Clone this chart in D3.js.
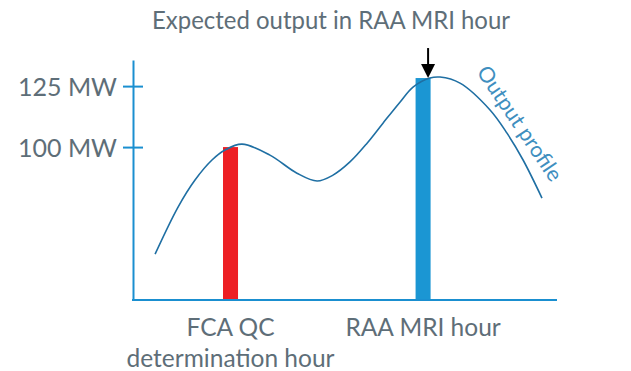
<!DOCTYPE html>
<html>
<head>
<meta charset="utf-8">
<script src="https://cdnjs.cloudflare.com/ajax/libs/d3/7.8.5/d3.min.js"></script>
<style>
  body { margin: 0; background: #fff; }
  svg text { font-family: Lato, "Open Sans", sans-serif; fill: #5e6e78; }
  .axis path, .axis line { stroke: #1a8fd0; stroke-width: 2; }
</style>
</head>
<body>
<div id="chart"></div>
<script>
// output profile across the day (hour, MW)
var profileHours = [1.25, 2.55, 3.51, 4.47, 5.21, 6.17, 7.75, 9.28, 10.42, 11.32, 12.28, 13.25, 14.15, 15.11, 15.85, 16.81, 17.38, 18.51, 20.21, 21.17, 22.08, 23.15];
var profileMW    = [56.1, 75.4, 86.5, 94.7, 98.8, 101.2, 96.7, 89.3, 86.1, 88.5, 93.9, 101.6, 109.8, 118.4, 124.6, 128.3, 128.7, 126.2, 115.2, 105.7, 94.7, 79.1];

// highlighted hours
var barLabels = [["FCA QC", "determination hour"], ["RAA MRI hour"]];
var barHours  = [5.52, 16.42];
var barMW     = [100, 128.3];
var barColors = ["#ed1f24", "#1b96d3"];

var tickValues = [100, 125];

var width = 631, height = 371;

var svg = d3.select("#chart").append("svg")
    .attr("width", width)
    .attr("height", height);

var xScale = d3.scaleLinear()
    .domain([0, 24])
    .range([133, 557]);

var yScale = d3.scaleLinear()
    .domain([37.3, 135.7])
    .range([300, 60]);

// title
svg.append("text")
    .attr("x", 331)
    .attr("y", 29)
    .attr("text-anchor", "middle")
    .attr("textLength", 358)
    .attr("lengthAdjust", "spacingAndGlyphs")
    .style("font-size", "25px")
    .text("Expected output in RAA MRI hour");

// bars
var barW = xScale(0.85) - xScale(0);
svg.selectAll(".bar")
    .data(barHours)
    .enter().append("rect")
    .attr("class", "bar")
    .attr("x", d => xScale(d) - barW / 2)
    .attr("width", barW)
    .attr("y", (d, i) => yScale(barMW[i]))
    .attr("height", (d, i) => yScale(37.3) - yScale(barMW[i]))
    .style("fill", (d, i) => barColors[i]);

// y axis
var yAxis = svg.append("g")
    .attr("class", "axis")
    .attr("transform", "translate(" + xScale(0) + ",0)")
    .call(d3.axisLeft(yScale)
        .tickValues(tickValues)
        .tickSizeInner(10)
        .tickSizeOuter(0)
        .tickFormat(d => d + " MW"));
yAxis.selectAll(".tick line").attr("x1", -10).attr("x2", 10);
yAxis.selectAll(".tick text")
    .attr("x", -16)
    .attr("dy", "0.36em")
    .style("font-size", "25px")
    .style("fill", "#5e6e78")
    .style("font-family", "Lato, 'Open Sans', sans-serif");

// x axis
var xAxis = svg.append("g")
    .attr("class", "axis")
    .attr("transform", "translate(0," + yScale(37.3) + ")")
    .call(d3.axisBottom(xScale).tickValues([]).tickSizeOuter(0));
xAxis.select(".domain").attr("d", "M" + (xScale(0) - 1) + ",0H" + xScale(24));

// x labels
svg.selectAll(".xlab")
    .data(barHours)
    .enter().append("text")
    .attr("class", "xlab")
    .attr("text-anchor", "middle")
    .style("font-size", "24.5px")
    .each(function(d, i) {
        var t = d3.select(this);
        barLabels[i].forEach((s, j) => {
            t.append("tspan")
                .attr("x", xScale(d))
                .attr("y", 336 + j * 31)
                .text(s);
        });
    });

// profile curve
var line = d3.line()
    .x((d, i) => xScale(profileHours[i]))
    .y(d => yScale(d))
    .curve(d3.curveCatmullRom);

svg.append("path")
    .datum(profileMW)
    .attr("d", line)
    .style("fill", "none")
    .style("stroke", "#1f6fa3")
    .style("stroke-width", 1.6);

svg.append("text")
    .attr("transform", "translate(476,72) rotate(56)")
    .style("font-size", "21.5px")
    .style("fill", "#3f8fbf")
    .text("Output profile");

// arrow pointing to RAA MRI hour
var ax = xScale(barHours[1]) + 5, ay = yScale(barMW[1]);
svg.append("line")
    .attr("x1", ax).attr("x2", ax)
    .attr("y1", ay - 30).attr("y2", ay - 12)
    .style("stroke", "#000")
    .style("stroke-width", 2);
svg.append("path")
    .attr("d", "M" + (ax - 7) + "," + (ay - 14) + "L" + (ax + 7) + "," + (ay - 14) + "L" + ax + "," + ay + "Z")
    .style("fill", "#000");
</script>
</body>
</html>
